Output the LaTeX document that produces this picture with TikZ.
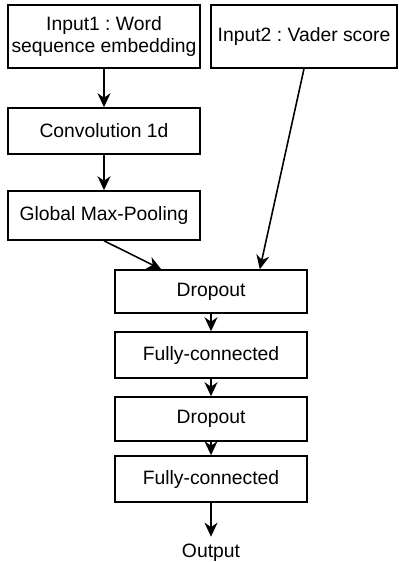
\documentclass[tikz,border=0pt]{standalone}
\usepackage{fontspec}
\setmainfont{Liberation Sans}
\usepackage{tikz}
\usetikzlibrary{arrows.meta}
\frenchspacing
\tikzset{box/.style = {draw, line width = 0.9pt, align = center,
                       inner sep = 0, minimum width = 3.84cm,
                       font = \fontsize{11}{13}\selectfont}}
\tikzset{flow/.style = {line width = 0.9pt,
                        -{Stealth[length = 2.8mm, width = 2.6mm, inset = 0.9mm]}}}

\begin{document}
\begin{tikzpicture}
      \useasboundingbox (0, 0) rectangle (7.96, -11.24);

      \node [box, minimum height = 1.26cm] (in1) at (2.08, -0.73) {Input1 : Word\\sequence embedding};
      \node [box, minimum height = 1.26cm, minimum width = 3.72cm] (in2) at (6.08, -0.73) {Input2 : Vader score};
      \node [box, minimum height = 0.92cm] (conv) at (2.08, -2.62) {Convolution 1d};
      \node [box, minimum height = 0.98cm] (gmp) at (2.08, -4.31) {Global Max-Pooling};

      \node [box, minimum height = 0.86cm] (drop1) at (4.22, -5.83) {Dropout};
      \node [box, minimum height = 0.92cm] (fc1) at (4.22, -7.10) {Fully-connected};
      \node [box, minimum height = 0.88cm] (drop2) at (4.22, -8.38) {Dropout};
      \node [box, minimum height = 0.92cm] (fc2) at (4.22, -9.58) {Fully-connected};
      \node [font = \fontsize{11}{13}\selectfont, inner sep = 0, minimum height = 0.64cm] (out) at (4.22, -11.06) {Output};

      \draw [flow] (in1) -- (conv);
      \draw [flow] (conv) -- (gmp);
      \draw [flow] (gmp.south) -- ([xshift = 0.94cm]drop1.north west);
      \draw [flow] (in2.south) -- ([xshift = -0.96cm]drop1.north east);
      \draw [flow] (drop1) -- (fc1);
      \draw [flow] (fc1) -- (drop2);
      \draw [flow] (drop2) -- (fc2);
      \draw [flow] (fc2) -- (out);
    \end{tikzpicture}
\end{document}
